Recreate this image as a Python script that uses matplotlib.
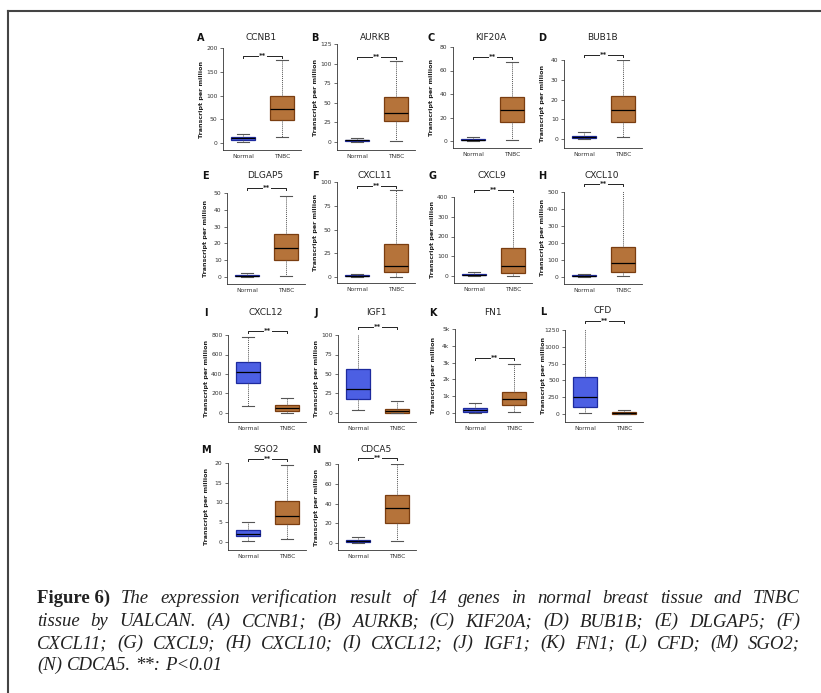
import matplotlib
matplotlib.use("Agg")
import matplotlib.pyplot as plt
from matplotlib.lines import Line2D
import matplotlib.ticker as ticker

W, H = 821, 693

# --- data ---
letters = ["A", "B", "C", "D", "E", "F", "G", "H", "I", "J", "K", "L", "M", "N"]
genes = ["CCNB1", "AURKB", "KIF20A", "BUB1B", "DLGAP5", "CXCL11", "CXCL9",
         "CXCL10", "CXCL12", "IGF1", "FN1", "CFD", "SGO2", "CDCA5"]
groups = ["Normal", "TNBC"]

# (whislo, q1, median, q3, whishi)
normal_stats = [
    (2, 7, 10, 12, 20),
    (0, 1, 2, 3, 5),
    (0, 0.5, 1, 1.8, 3),
    (0, 0.5, 1, 1.5, 3.5),
    (0, 0.3, 0.8, 1.3, 2.5),
    (0, 1, 1.5, 2, 3.5),
    (0, 3, 5, 8, 22),
    (0, 3, 6, 10, 15),
    (72, 310, 420, 520, 775),
    (4, 18, 31, 57, 104),
    (0, 50, 150, 300, 620),
    (20, 100, 260, 555, 1280),
    (0.3, 1.5, 2, 3, 5),
    (0.5, 1, 2, 3, 6),
]
tnbc_stats = [
    (12, 48, 71, 100, 174),
    (1, 27, 37, 57, 103),
    (0.5, 16.5, 26, 37.5, 67),
    (0.8, 8.5, 14.5, 22, 40),
    (0.5, 10, 17, 25.5, 48.5),
    (0, 5, 12, 35, 92),
    (2, 13, 52, 143, 408),
    (3, 28, 80, 178, 512),
    (0, 25, 50, 78, 155),
    (0, 0.5, 2.5, 5, 15),
    (50, 450, 820, 1230, 2900),
    (0, 5, 15, 25, 55),
    (0.8, 4.5, 6.5, 10.5, 19.5),
    (2, 20, 35, 48.5, 80),
]
y_top = [200, 125, 80, 40, 50, 100, 400, 500, 800, 100, 5000, 1250, 20, 80]
y_step = [50, 25, 20, 10, 10, 25, 100, 100, 200, 25, 1000, 250, 5, 20]
sig_y = [183, 108, 71.5, 42.5, 53, 96, 435, 547, 841, 110, 3250, 1384, 21, 86]

# --- layout in pixels: (axis left x, top tick y, zero y, x-axis y) ---
panel_px = [
    (223, 48, 143, 150), (337, 44, 142, 150), (453, 47, 141, 148), (564, 60, 139, 148),
    (227, 193, 277, 284), (337, 182, 277, 283), (454, 197, 276, 283), (564, 192, 277, 284),
    (228, 335, 413, 422), (338, 335, 413, 422), (455, 329, 413, 422), (565, 330, 414, 422),
    (228, 463, 542, 550), (338, 464, 543, 550),
]
row_title_y = [37, 37, 37, 37, 175, 175, 175, 175, 312, 312, 312, 311, 449, 449]
AX_W = 78

normal_face, normal_edge = "#4c5fe3", "#1d2a9e"
tnbc_face, tnbc_edge = "#b5733a", "#7a3d10"

fig = plt.figure(figsize=(W / 100, H / 100), dpi=100)

for i in range(len(genes)):
    left, top, zero, xax = panel_px[i]
    ytop = y_top[i]
    ybot = -(xax - zero) / (zero - top) * ytop
    ax = fig.add_axes([left / W, 1 - xax / H, AX_W / W, (xax - top) / H])

    stats = []
    for pos, s in enumerate([normal_stats[i], tnbc_stats[i]]):
        stats.append(dict(whislo=s[0], q1=s[1], med=s[2], q3=s[3], whishi=s[4],
                          fliers=[], label=groups[pos]))
    bp = ax.bxp(stats, positions=[1, 2], widths=0.62, patch_artist=True,
                showfliers=False,
                medianprops=dict(color="black", linewidth=0.9),
                whiskerprops=dict(color="#555555", linestyle=(0, (1, 1)), linewidth=0.7),
                capprops=dict(color="#555555", linewidth=0.8),
                boxprops=dict(linewidth=0.9))
    # cap width narrower than box
    for cap in bp["caps"]:
        xd = cap.get_xdata()
        c = (xd[0] + xd[1]) / 2
        cap.set_xdata([c - 0.15, c + 0.15])
    for patch, fc, ec in zip(bp["boxes"], [normal_face, tnbc_face], [normal_edge, tnbc_edge]):
        patch.set_facecolor(fc)
        patch.set_edgecolor(ec)

    ax.set_xlim(0.48, 2.48)
    ax.set_ylim(ybot, ytop)
    ticks = [k * y_step[i] for k in range(int(round(ytop / y_step[i])) + 1)]
    ax.set_yticks(ticks)
    if genes[i] == "FN1":
        ax.yaxis.set_major_formatter(ticker.FuncFormatter(
            lambda v, _: "0" if v == 0 else f"{int(v / 1000)}k"))
    ax.spines["top"].set_visible(False)
    ax.spines["right"].set_visible(False)
    for sp in ["left", "bottom"]:
        ax.spines[sp].set_color("#333333")
        ax.spines[sp].set_linewidth(0.6)
    ax.tick_params(axis="y", labelsize=4.3, length=2.5, width=0.5, pad=1.5, colors="#333333")
    ax.tick_params(axis="x", labelsize=4.3, length=0, pad=3, colors="#333333")
    ax.set_ylabel("Transcript per million", fontsize=4.6, fontweight="bold", color="#222222")
    ax.yaxis.set_label_coords(-0.245, 0.5)

    # significance bracket
    sy = sig_y[i]
    dy = (ytop - ybot) * 0.02
    ax.plot([1, 1, 2, 2], [sy - dy, sy, sy, sy - dy], color="#222222", lw=0.7, clip_on=False)
    ax.text(1.5, sy, "**", ha="center", va="center", fontsize=5, fontweight="bold",
            color="#222222", clip_on=False,
            bbox=dict(facecolor="white", edgecolor="none", pad=0.2))

    fig.text((left + 38) / W, 1 - row_title_y[i] / H, genes[i], ha="center", va="center",
             fontsize=6.5, color="#222222")
    fig.text((left - 22) / W, 1 - (row_title_y[i] + 1) / H, letters[i], ha="center",
             va="center", fontsize=7, fontweight="bold", color="#111111")

# --- border ---
fig.add_artist(Line2D([8 / W, 1], [1 - 11 / H, 1 - 11 / H], color="#444444", lw=1.5))
fig.add_artist(Line2D([8 / W, 8 / W], [1 - 11 / H, 0], color="#444444", lw=1.5))

# --- caption, justified ---
caption_lines = [
    [("Figure 6)", "bold")] + [(w, "italic") for w in
        "The expression verification result of 14 genes in normal breast tissue and TNBC".split()],
    [(w, "italic") for w in
        "tissue by UALCAN. (A) CCNB1; (B) AURKB; (C) KIF20A; (D) BUB1B; (E) DLGAP5; (F)".split()],
    [(w, "italic") for w in
        "CXCL11; (G) CXCL9; (H) CXCL10; (I) CXCL12; (J) IGF1; (K) FN1; (L) CFD; (M) SGO2;".split()],
    [(w, "italic") for w in "(N) CDCA5. **: P<0.01".split()],
]
baselines = [603, 626, 648, 670]
x0, x1 = 37, 800
renderer = fig.canvas.get_renderer()
for li, (words, base) in enumerate(zip(caption_lines, baselines)):
    objs = []
    for w, style in words:
        if style == "bold":
            t = fig.text(0, 1 - base / H, w, fontsize=13.5, family="Liberation Serif",
                         fontweight="bold", va="baseline", color="#222222")
        else:
            t = fig.text(0, 1 - base / H, w, fontsize=13.5, family="Liberation Serif",
                         style="italic", va="baseline", color="#222222")
        objs.append(t)
    widths = [t.get_window_extent(renderer).width for t in objs]
    if li < len(caption_lines) - 1:
        gap = (x1 - x0 - sum(widths)) / (len(objs) - 1)
    else:
        gap = 4.5
    x = x0
    for t, wd in zip(objs, widths):
        t.set_x(x / W)
        x += wd + gap

fig.savefig("out.png", dpi=100)
